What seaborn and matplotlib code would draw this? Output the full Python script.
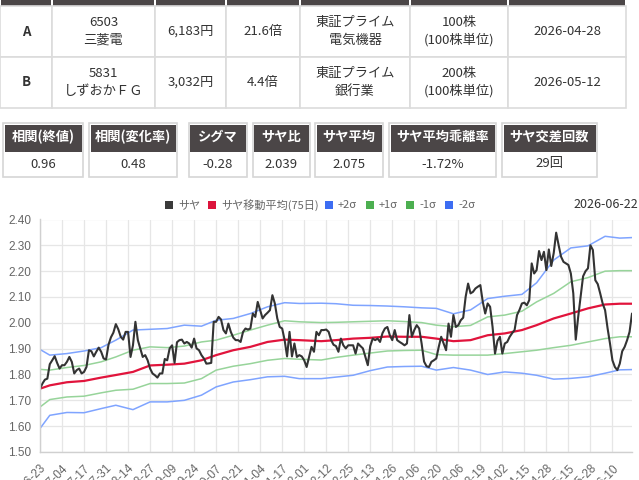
import numpy as np
import pandas as pd
import seaborn as sns
import matplotlib.pyplot as plt
from matplotlib.patches import Rectangle

W, H = 639, 480

# ---- pair table ----
row_labels = ["A", "B"]
codes      = ["6503\n三菱電", "5831\nしずおかＦＧ"]
prices     = ["6,183円", "3,032円"]
per        = ["21.6倍", "4.4倍"]
markets    = ["東証プライム\n電気機器", "東証プライム\n銀行業"]
shares     = ["100株\n(100株単位)", "200株\n(100株単位)"]
exdates    = ["2026-04-28", "2026-05-12"]

# ---- stats boxes ----
stat_names  = ["相関(終値)", "相関(変化率)", "シグマ", "サヤ比", "サヤ平均", "サヤ平均乖離率", "サヤ交差回数"]
stat_values = ["0.96", "0.48", "-0.28", "2.039", "2.075", "-1.72%", "29回"]

# ---- chart ----
last_date = "2026-06-22"
tick_labels = [
    "2025-06-23", "2025-07-04", "2025-07-17", "2025-07-31", "2025-08-14", "2025-08-27",
    "2025-09-09", "2025-09-24", "2025-10-07", "2025-10-21", "2025-11-04", "2025-11-17",
    "2025-12-01", "2025-12-12", "2025-12-25", "2026-01-13", "2026-01-26", "2026-02-06",
    "2026-02-20", "2026-03-06", "2026-03-19", "2026-04-02", "2026-04-15", "2026-04-28",
    "2026-05-15", "2026-05-28", "2026-06-10",
]

# saya ratio, one value per trading day
saya = [
    1.745, 1.765, 1.780, 1.784, 1.840, 1.855, 1.871, 1.845, 1.823, 1.836,
    1.836, 1.849, 1.868, 1.849, 1.804, 1.817, 1.823, 1.804, 1.810, 1.829,
    1.894, 1.890, 1.870, 1.888, 1.904, 1.888, 1.862, 1.858, 1.915, 1.944,
    1.962, 1.995, 1.975, 1.946, 1.935, 1.965, 1.965, 1.868, 1.913, 2.004,
    1.933, 1.901, 1.868, 1.875, 1.855, 1.823, 1.804, 1.797, 1.788, 1.804,
    1.804, 1.860, 1.855, 1.901, 1.913, 1.845, 1.925, 1.933, 1.935, 1.920,
    1.926, 1.920, 1.904, 1.939, 1.901, 1.894, 1.875, 1.862, 1.842, 1.843,
    1.845, 2.004, 2.004, 2.023, 2.013, 1.972, 1.959, 1.997, 1.965, 1.943,
    1.933, 1.933, 1.926, 1.965, 1.978, 1.974, 1.978, 2.036, 2.023, 2.081,
    2.049, 2.017, 2.030, 2.039, 2.049, 2.107, 2.075, 2.017, 1.984, 1.978,
    1.933, 1.870, 1.965, 1.870, 1.920, 1.868, 1.875, 1.870, 1.855, 1.829,
    1.868, 1.907, 1.888, 1.965, 1.952, 1.972, 1.972, 1.974, 1.965, 1.933,
    1.915, 1.910, 1.888, 1.939, 1.913, 1.901, 1.913, 1.913, 1.913, 1.881,
    1.920, 1.910, 1.901, 1.868, 1.836, 1.910, 1.939, 1.933, 1.939, 1.926,
    1.960, 1.978, 1.984, 1.952, 1.933, 1.972, 1.933, 1.926, 1.920, 1.913,
    1.920, 2.030, 1.946, 1.972, 1.991, 1.978, 1.920, 1.850, 1.832, 1.829,
    1.849, 1.855, 1.862, 1.907, 1.946, 1.920, 1.894, 1.997, 1.946, 2.030,
    1.984, 1.991, 2.010, 2.020, 2.101, 2.152, 2.114, 2.120, 2.133, 2.140,
    2.146, 2.081, 2.036, 2.075, 2.062, 1.984, 1.881, 1.930, 1.946, 1.881,
    1.920, 1.926, 1.946, 1.960, 1.972, 2.030, 2.050, 2.075, 2.078, 2.068,
    2.088, 2.230, 2.191, 2.204, 2.278, 2.243, 2.275, 2.204, 2.284, 2.220,
    2.270, 2.349, 2.301, 2.256, 2.236, 2.230, 2.224, 2.191, 2.114, 1.935,
    2.023, 2.100, 2.180, 2.200, 2.211, 2.300, 2.282, 2.165, 2.150, 2.114,
    2.075, 2.049, 1.980, 1.920, 1.855, 1.829, 1.817, 1.842, 1.890, 1.907,
    1.933, 1.965, 2.036,
]

# moving average and sigma bands, read at these trading days
band_day = [0, 4, 11, 18, 25, 31, 38, 45, 52, 59, 66, 72, 79, 86, 93, 100, 106, 115, 121,
            128, 135, 142, 149, 156, 162, 169, 176, 183, 190, 197, 203, 210, 217, 224, 231, 237, 242]
ma75 = [1.745, 1.758, 1.770, 1.775, 1.788, 1.798, 1.810, 1.835, 1.838, 1.842, 1.855, 1.875,
        1.894, 1.907, 1.926, 1.935, 1.933, 1.929, 1.933, 1.939, 1.942, 1.947, 1.946, 1.946,
        1.939, 1.929, 1.933, 1.952, 1.959, 1.972, 1.991, 2.017, 2.036, 2.056, 2.071, 2.074, 2.074]
plus2 = [1.897, 1.875, 1.881, 1.891, 1.904, 1.933, 1.972, 1.975, 1.978, 1.991, 1.987, 2.010,
         2.017, 2.036, 2.062, 2.078, 2.075, 2.076, 2.074, 2.068, 2.067, 2.065, 2.062, 2.058,
         2.056, 2.035, 2.050, 2.094, 2.103, 2.110, 2.155, 2.243, 2.290, 2.298, 2.335, 2.328, 2.330]
plus1 = [1.820, 1.817, 1.827, 1.835, 1.849, 1.868, 1.894, 1.907, 1.904, 1.910, 1.926, 1.933,
         1.952, 1.972, 1.991, 2.008, 2.004, 2.001, 2.002, 2.004, 2.006, 2.008, 2.005, 2.001,
         1.991, 1.985, 1.990, 2.023, 2.030, 2.045, 2.081, 2.114, 2.159, 2.175, 2.200, 2.202, 2.202]
minus1 = [1.674, 1.703, 1.713, 1.716, 1.729, 1.739, 1.743, 1.765, 1.765, 1.767, 1.784, 1.817,
          1.832, 1.842, 1.855, 1.862, 1.859, 1.856, 1.866, 1.875, 1.883, 1.891, 1.893, 1.894,
          1.877, 1.875, 1.875, 1.875, 1.881, 1.888, 1.894, 1.904, 1.913, 1.926, 1.939, 1.946, 1.946]
minus2 = [1.591, 1.642, 1.653, 1.652, 1.668, 1.681, 1.664, 1.694, 1.694, 1.700, 1.720, 1.752,
          1.771, 1.780, 1.791, 1.793, 1.784, 1.784, 1.790, 1.797, 1.815, 1.829, 1.831, 1.832,
          1.817, 1.827, 1.817, 1.800, 1.810, 1.805, 1.797, 1.782, 1.785, 1.791, 1.805, 1.818, 1.819]

DARK = "#4b4647"
TXT = "#333333"
GRID = "#e6e6e6"

sns.set_theme(style="white")
plt.rcParams["font.family"] = ["Noto Sans CJK JP", "DejaVu Sans"]

fig = plt.figure(figsize=(W / 100, H / 100), dpi=100)
fig.patch.set_facecolor("white")


def rect(x0, y0, x1, y1, **kw):
    fig.add_artist(Rectangle((x0 / W, 1 - y1 / H), (x1 - x0) / W, (y1 - y0) / H,
                             transform=fig.transFigure, **kw))


def text(x, y, s, **kw):
    kw.setdefault("ha", "center")
    kw.setdefault("va", "center")
    kw.setdefault("color", TXT)
    fig.text(x / W, 1 - y / H, s, **kw)


def cell_text(x, y, s, **kw):
    lines = s.split("\n")
    if len(lines) == 1:
        text(x, y, s, **kw)
    else:
        text(x, y - 9, lines[0], **kw)
        text(x, y + 8.5, lines[1], **kw)


# ---- pair table ----
col_edges = [0, 52, 155, 226, 300, 410, 508, 626]
row_edges = [6, 57, 108]
for i in range(len(col_edges) - 1):
    rect(col_edges[i] + 1, 0, col_edges[i + 1] - 1, 6, facecolor=DARK, edgecolor="none")
columns = [row_labels, codes, prices, per, markets, shares, exdates]
for r in range(2):
    yc = (row_edges[r] + row_edges[r + 1]) / 2
    for c, col in enumerate(columns):
        x0, x1 = col_edges[c], col_edges[c + 1]
        rect(x0, row_edges[r], x1, row_edges[r + 1], facecolor="white",
             edgecolor="#dcdcdc", lw=1.2)
        cell_text((x0 + x1) / 2, yc, col[r], fontsize=9.5,
                  fontweight="bold" if c == 0 else "normal")

# ---- stats boxes ----
box_edges = [(3, 83), (89, 177), (189, 247), (253, 310), (315, 383), (389, 496), (502, 597)]
for (x0, x1), name, val in zip(box_edges, stat_names, stat_values):
    rect(x0, 123, x1, 177, facecolor="white", edgecolor="#d6d6d6", lw=1.2)
    rect(x0 + 1.5, 124.5, x1 - 1.5, 152, facecolor=DARK, edgecolor="none")
    text((x0 + x1) / 2, 137, name, fontsize=9.5, fontweight="bold", color="white")
    text((x0 + x1) / 2, 164, val, fontsize=9.5)

# ---- chart ----
ax = fig.add_axes([40 / W, 1 - 452 / H, 592 / W, (452 - 219.5) / H])
days = np.arange(len(saya))
df = pd.DataFrame({"day": days, "saya": saya})
bands = pd.DataFrame({"day": band_day, "ma": ma75, "p2": plus2, "p1": plus1,
                      "m1": minus1, "m2": minus2})

for col, color in [("m2", "#7fa4ff"), ("m1", "#97d49a"), ("p1", "#97d49a"), ("p2", "#7fa4ff")]:
    sns.lineplot(data=bands, x="day", y=col, color=color, lw=1.1, ax=ax)
sns.lineplot(data=bands, x="day", y="ma", color="#e1143c", lw=1.6, ax=ax)
sns.lineplot(data=df, x="day", y="saya", color="#333333", lw=1.5, ax=ax)

ax.set_xlim(0, len(saya) - 1)
ax.set_ylim(1.5, 2.4)
yt = np.round(np.arange(1.5, 2.41, 0.1), 2)
ax.set_yticks(yt)
ax.set_yticklabels([f"{v:.2f}" for v in yt])
xt = np.arange(0, len(saya), 9)[:len(tick_labels)]
ax.set_xticks(xt)
ax.set_xticklabels(tick_labels, rotation=45, ha="right", rotation_mode="anchor")
ax.set_xlabel("")
ax.set_ylabel("")
ax.grid(True, color=GRID, lw=0.9)
ax.set_axisbelow(True)
for side in ("top", "right"):
    ax.spines[side].set_visible(False)
for side in ("left", "bottom"):
    ax.spines[side].set_color("#d0d0d0")
    ax.spines[side].set_linewidth(1.0)
ax.tick_params(axis="both", length=5, width=0.9, color=GRID, labelcolor="#666666",
               labelsize=8.5)
ax.tick_params(axis="y", pad=1.5)
ax.tick_params(axis="x", pad=2.5)
for lab in ax.get_xticklabels() + ax.get_yticklabels():
    lab.set_family(["Liberation Sans", "DejaVu Sans"])

# legend (chart.js style colored squares)
legend_items = [("サヤ", "#3a3a3a", 165), ("サヤ移動平均(75日)", "#dc143c", 208),
                ("+2σ", "#3d6df2", 325), ("+1σ", "#4caf50", 366),
                ("-1σ", "#4caf50", 406), ("-2σ", "#3d6df2", 445)]
for label, color, lx in legend_items:
    rect(lx, 201, lx + 8, 209, facecolor=color, edgecolor="none")
    text(lx + 13, 205, label, ha="left", fontsize=8, color="#666666")
text(638, 204, last_date, ha="right", fontsize=9, color=TXT)

fig.savefig("out.png", dpi=100)
